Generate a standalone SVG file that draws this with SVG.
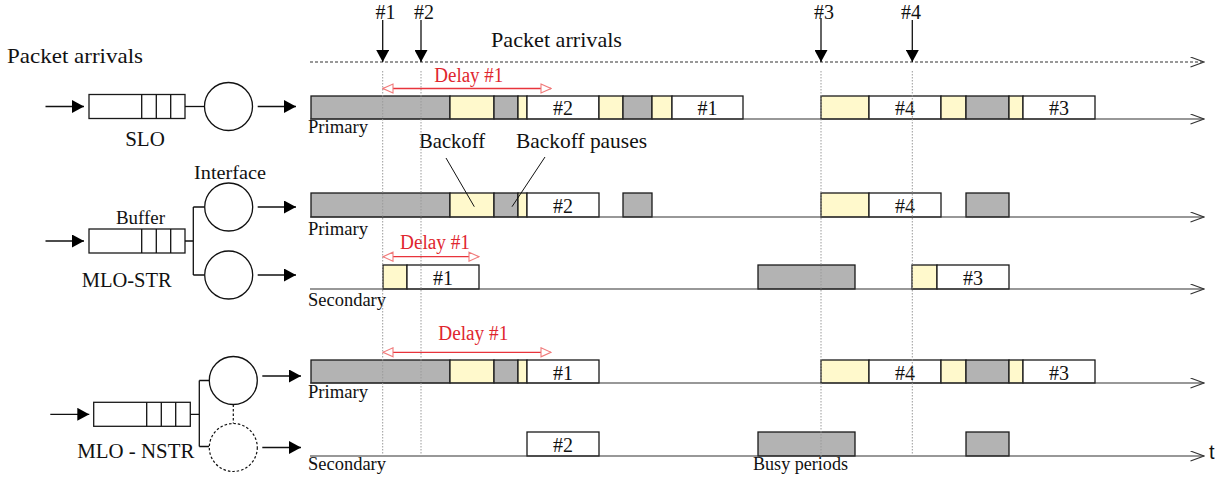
<svg xmlns="http://www.w3.org/2000/svg" width="1229" height="479" viewBox="0 0 1229 479">
<style>
text{font-family:"Liberation Serif","Times New Roman",serif;fill:#111}
.lbl{font-size:21px}
.num{font-size:20px}
.small{font-size:18px}
.red{fill:#e0262e;font-size:20px}
.blk{stroke:#1a1a1a;stroke-width:1.3}
.g{fill:#b3b3b3}
.y{fill:#fff9cc}
.w{fill:#ffffff}
.ax{stroke:#333;stroke-width:1.1;fill:none}
.vl{stroke:#9a9a9a;stroke-width:1;stroke-dasharray:1.5 1.5;fill:none}
.ln{stroke:#111;stroke-width:1.3;fill:none}
.circ{fill:#fff;stroke:#111;stroke-width:1.3}
.delay{stroke:#e8343c;stroke-width:1.3;fill:none}
</style>
<defs>
<marker id="vhead" viewBox="0 0 15 11" refX="14" refY="5.5" markerWidth="15" markerHeight="11" markerUnits="userSpaceOnUse" orient="auto">
<path d="M0.5,0.5 L14,5.5 L0.5,10.5" fill="none" stroke="#333" stroke-width="1.1"/>
</marker>
<marker id="fhead" viewBox="0 0 12 13" refX="12" refY="6.5" markerWidth="12" markerHeight="13" markerUnits="userSpaceOnUse" orient="auto">
<path d="M0,0 L12,6.5 L0,13 Z" fill="#000"/>
</marker>
<marker id="rhead" viewBox="0 0 12 11" refX="11" refY="5.5" markerWidth="12" markerHeight="11" markerUnits="userSpaceOnUse" orient="auto-start-reverse">
<path d="M1,1 L11,5.5 L1,10 Z" fill="#fff" stroke="#f07a7a" stroke-width="1.1"/>
</marker>
</defs>
<rect width="1229" height="479" fill="#fff"/>

<!-- left side queue models -->
<g id="slo">
<text class="lbl" x="7" y="63" textLength="136" lengthAdjust="spacingAndGlyphs">Packet  arrivals</text>
<rect class="blk w" x="89" y="94.5" width="96" height="24"/>
<line class="ln" x1="141.7" y1="94.5" x2="141.7" y2="118.5"/>
<line class="ln" x1="156.3" y1="94.5" x2="156.3" y2="118.5"/>
<line class="ln" x1="170.7" y1="94.5" x2="170.7" y2="118.5"/>
<line class="ln" x1="185" y1="106.5" x2="204.5" y2="106.5"/>
<circle class="circ" cx="228.5" cy="106.5" r="24"/>
<text class="lbl" x="145" y="146" text-anchor="middle">SLO</text>
</g>

<g id="mlo-str">
<text class="small" x="230" y="179" text-anchor="middle" textLength="72" lengthAdjust="spacingAndGlyphs">Interface</text>
<text class="small" x="140.5" y="224" text-anchor="middle" textLength="49" lengthAdjust="spacingAndGlyphs">Buffer</text>
<rect class="blk w" x="89" y="229" width="96" height="24"/>
<line class="ln" x1="141.7" y1="229" x2="141.7" y2="253"/>
<line class="ln" x1="156.3" y1="229" x2="156.3" y2="253"/>
<line class="ln" x1="170.7" y1="229" x2="170.7" y2="253"/>
<path class="ln" d="M185,241 H193.3 M193.3,207 V275 M193.3,207 H204.5 M193.3,275 H204.5"/>
<circle class="circ" cx="228.7" cy="207" r="24"/>
<circle class="circ" cx="228.7" cy="275" r="24"/>
<text class="lbl" x="126.7" y="287" text-anchor="middle" textLength="90" lengthAdjust="spacingAndGlyphs">MLO-STR</text>
</g>

<g id="mlo-nstr">
<rect class="blk w" x="93.7" y="402.3" width="96.6" height="24"/>
<line class="ln" x1="146.7" y1="402.3" x2="146.7" y2="426.3"/>
<line class="ln" x1="161.3" y1="402.3" x2="161.3" y2="426.3"/>
<line class="ln" x1="175.7" y1="402.3" x2="175.7" y2="426.3"/>
<path class="ln" d="M190.3,414.3 H199.3 M199.3,380.5 V446.5 M199.3,380.5 H209.3 M199.3,446.5 H209.3"/>
<line x1="233.3" y1="404.5" x2="233.3" y2="423.5" stroke="#111" stroke-width="1.2" stroke-dasharray="2.5 2"/>
<circle class="circ" cx="233.3" cy="380.5" r="24"/>
<circle cx="233.3" cy="447.5" r="24" fill="#fff" stroke="#111" stroke-width="1.2" stroke-dasharray="2.5 2"/>
<text class="lbl" x="135.8" y="458" text-anchor="middle" textLength="117" lengthAdjust="spacingAndGlyphs">MLO - NSTR</text>
</g>

<!-- timelines -->
<g id="arrivals">
<text class="lbl" x="491" y="47" textLength="131" lengthAdjust="spacingAndGlyphs">Packet arrivals</text>
<text class="num" x="385.5" y="19" text-anchor="middle">#1</text>
<text class="num" x="424" y="19" text-anchor="middle">#2</text>
<text class="num" x="824" y="19" text-anchor="middle">#3</text>
<text class="num" x="911" y="19" text-anchor="middle">#4</text>
</g>

<g id="slo-primary">
<rect class="blk g" x="311" y="96" width="139" height="23"/>
<rect class="blk y" x="450" y="96" width="44" height="23"/>
<rect class="blk g" x="494" y="96" width="24" height="23"/>
<rect class="blk y" x="518" y="96" width="9" height="23"/>
<rect class="blk w" x="527" y="96" width="72" height="23"/>
<rect class="blk y" x="599" y="96" width="24" height="23"/>
<rect class="blk g" x="623" y="96" width="29" height="23"/>
<rect class="blk y" x="652" y="96" width="20" height="23"/>
<rect class="blk w" x="672" y="96" width="71" height="23"/>
<rect class="blk y" x="821" y="96" width="48" height="23"/>
<rect class="blk w" x="869" y="96" width="72" height="23"/>
<rect class="blk y" x="941" y="96" width="25" height="23"/>
<rect class="blk g" x="966" y="96" width="43" height="23"/>
<rect class="blk y" x="1009" y="96" width="14" height="23"/>
<rect class="blk w" x="1023" y="96" width="72" height="23"/>
<text class="num" x="563" y="115" text-anchor="middle">#2</text>
<text class="num" x="707.5" y="115" text-anchor="middle">#1</text>
<text class="num" x="905" y="115" text-anchor="middle">#4</text>
<text class="num" x="1059" y="115" text-anchor="middle">#3</text>
<text class="small" x="308" y="133" textLength="60" lengthAdjust="spacingAndGlyphs">Primary</text>
<text class="red" x="468.8" y="82" text-anchor="middle" textLength="69" lengthAdjust="spacingAndGlyphs">Delay #1</text>
<text class="lbl" x="419" y="148" textLength="66" lengthAdjust="spacingAndGlyphs">Backoff</text>
<text class="lbl" x="516" y="148" textLength="131" lengthAdjust="spacingAndGlyphs">Backoff pauses</text>
</g>

<g id="str-primary">
<rect class="blk g" x="311" y="193" width="139" height="24"/>
<rect class="blk y" x="450" y="193" width="44" height="24"/>
<rect class="blk g" x="494" y="193" width="24" height="24"/>
<rect class="blk y" x="518" y="193" width="9" height="24"/>
<rect class="blk w" x="527" y="193" width="72" height="24"/>
<rect class="blk g" x="623" y="193" width="29" height="24"/>
<rect class="blk y" x="821" y="193" width="48" height="24"/>
<rect class="blk w" x="869" y="193" width="72" height="24"/>
<rect class="blk g" x="966" y="193" width="43" height="24"/>
<text class="num" x="563" y="213" text-anchor="middle">#2</text>
<text class="num" x="905" y="213" text-anchor="middle">#4</text>
<text class="small" x="308" y="235" textLength="60" lengthAdjust="spacingAndGlyphs">Primary</text>
<text class="red" x="435" y="249" text-anchor="middle" textLength="70" lengthAdjust="spacingAndGlyphs">Delay #1</text>
</g>

<g id="str-secondary">
<rect class="blk y" x="383" y="265" width="24" height="24"/>
<rect class="blk w" x="407" y="265" width="72" height="24"/>
<rect class="blk g" x="758" y="265" width="97" height="24"/>
<rect class="blk y" x="912" y="265" width="25" height="24"/>
<rect class="blk w" x="937" y="265" width="72" height="24"/>
<text class="num" x="443" y="285" text-anchor="middle">#1</text>
<text class="num" x="973" y="285" text-anchor="middle">#3</text>
<text class="small" x="308" y="306" textLength="78" lengthAdjust="spacingAndGlyphs">Secondary</text>
</g>

<g id="nstr-primary">
<rect class="blk g" x="311" y="360" width="139" height="23"/>
<rect class="blk y" x="450" y="360" width="44" height="23"/>
<rect class="blk g" x="494" y="360" width="24" height="23"/>
<rect class="blk y" x="518" y="360" width="9" height="23"/>
<rect class="blk w" x="527" y="360" width="72" height="23"/>
<rect class="blk y" x="821" y="360" width="48" height="23"/>
<rect class="blk w" x="869" y="360" width="72" height="23"/>
<rect class="blk y" x="941" y="360" width="25" height="23"/>
<rect class="blk g" x="966" y="360" width="43" height="23"/>
<rect class="blk y" x="1009" y="360" width="14" height="23"/>
<rect class="blk w" x="1023" y="360" width="72" height="23"/>
<text class="num" x="563" y="380" text-anchor="middle">#1</text>
<text class="num" x="905" y="380" text-anchor="middle">#4</text>
<text class="num" x="1059" y="380" text-anchor="middle">#3</text>
<text class="small" x="308" y="398" textLength="60" lengthAdjust="spacingAndGlyphs">Primary</text>
<text class="red" x="473.3" y="340" text-anchor="middle" textLength="70" lengthAdjust="spacingAndGlyphs">Delay #1</text>
</g>

<g id="nstr-secondary">
<rect class="blk w" x="527" y="432" width="72" height="24"/>
<rect class="blk g" x="758" y="432" width="97" height="24"/>
<rect class="blk g" x="966" y="432" width="43" height="24"/>
<text class="num" x="563" y="452" text-anchor="middle">#2</text>
<text class="small" x="308" y="470" textLength="78" lengthAdjust="spacingAndGlyphs">Secondary</text>
<text class="small" x="753" y="470" textLength="95" lengthAdjust="spacingAndGlyphs">Busy periods</text>
<text x="1209" y="459" font-size="20" style="font-family:'Liberation Sans',Arial,sans-serif">t</text>
</g>

<g id="connectors">
<!-- input / output arrows -->
<line class="ln" x1="45.5" y1="106.5" x2="84" y2="106.5" marker-end="url(#fhead)"/>
<line class="ln" x1="257.7" y1="106.5" x2="296" y2="106.5" marker-end="url(#fhead)"/>
<line class="ln" x1="45.5" y1="241" x2="84" y2="241" marker-end="url(#fhead)"/>
<line class="ln" x1="257.7" y1="207" x2="296" y2="207" marker-end="url(#fhead)"/>
<line class="ln" x1="257.7" y1="275" x2="296" y2="275" marker-end="url(#fhead)"/>
<line class="ln" x1="50.3" y1="414.3" x2="89.3" y2="414.3" marker-end="url(#fhead)"/>
<line class="ln" x1="262.3" y1="376" x2="301" y2="376" marker-end="url(#fhead)"/>
<line class="ln" x1="262.3" y1="447.5" x2="301" y2="447.5" marker-end="url(#fhead)"/>
<!-- time axes -->
<line x1="310" y1="62" x2="1204" y2="62" stroke="#333" stroke-width="1.1" stroke-dasharray="3 2" marker-end="url(#vhead)"/>
<line class="ax" x1="310" y1="119" x2="1204" y2="119" marker-end="url(#vhead)"/>
<line class="ax" x1="310" y1="217" x2="1204" y2="217" marker-end="url(#vhead)"/>
<line class="ax" x1="310" y1="289" x2="1204" y2="289" marker-end="url(#vhead)"/>
<line class="ax" x1="310" y1="383" x2="1204" y2="383" marker-end="url(#vhead)"/>
<line class="ax" x1="310" y1="456" x2="1204" y2="456" marker-end="url(#vhead)"/>
<!-- arrival arrows -->
<line class="ln" x1="382.7" y1="20" x2="382.7" y2="62" marker-end="url(#fhead)"/>
<line class="ln" x1="421" y1="20" x2="421" y2="62" marker-end="url(#fhead)"/>
<line class="ln" x1="821" y1="18" x2="821" y2="62" marker-end="url(#fhead)"/>
<line class="ln" x1="912.3" y1="20" x2="912.3" y2="62" marker-end="url(#fhead)"/>
<!-- guide lines -->
<line class="vl" x1="382.7" y1="71" x2="382.7" y2="456"/>
<line class="vl" x1="421" y1="71" x2="421" y2="456"/>
<line class="vl" x1="821" y1="71" x2="821" y2="456"/>
<line class="vl" x1="912.3" y1="71" x2="912.3" y2="456"/>
<!-- delay arrows -->
<line class="delay" x1="383" y1="88.5" x2="551" y2="88.5" marker-start="url(#rhead)" marker-end="url(#rhead)"/>
<line class="delay" x1="383" y1="256.7" x2="479" y2="256.7" marker-start="url(#rhead)" marker-end="url(#rhead)"/>
<line class="delay" x1="383" y1="352.3" x2="551" y2="352.3" marker-start="url(#rhead)" marker-end="url(#rhead)"/>
<!-- annotation leaders -->
<line x1="446" y1="158" x2="474.3" y2="206.7" stroke="#111" stroke-width="1"/>
<line x1="545" y1="157" x2="512" y2="206.7" stroke="#111" stroke-width="1"/>
</g>
</svg>
